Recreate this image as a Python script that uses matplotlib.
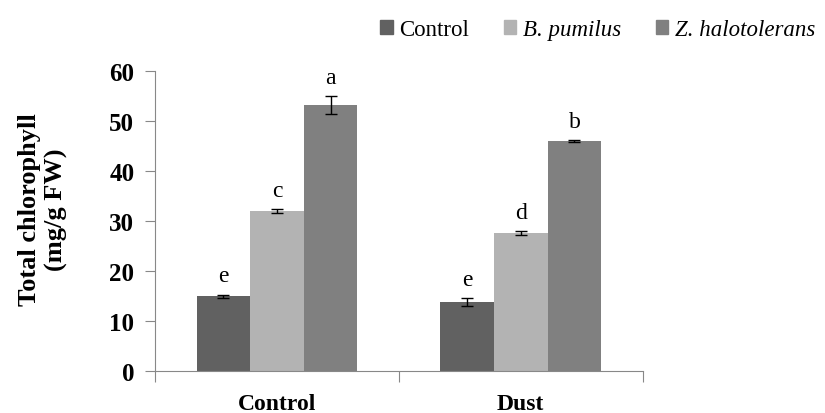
import matplotlib
matplotlib.use('Agg')
import matplotlib.pyplot as plt
import numpy as np
from matplotlib.patches import Patch
from matplotlib.font_manager import FontProperties

plt.rcParams['font.family'] = ['Liberation Serif', 'DejaVu Serif']

groups = ['Control', 'Dust']
series = ['Control', 'B. pumilus', 'Z. halotolerans']
values = {
    'Control': [15.0, 13.8],
    'B. pumilus': [32.0, 27.6],
    'Z. halotolerans': [53.2, 46.0],
}
errors = {
    'Control': [0.3, 0.8],
    'B. pumilus': [0.4, 0.4],
    'Z. halotolerans': [1.8, 0.2],
}
letters = {
    'Control': ['e', 'e'],
    'B. pumilus': ['c', 'd'],
    'Z. halotolerans': ['a', 'b'],
}
colors = ['#616161', '#b3b3b3', '#808080']

fig = plt.figure(figsize=(8.25, 4.14), dpi=100)
ax = fig.add_axes([0.188, 0.1014, 0.591, 0.7246])

centers = np.arange(len(groups)) + 0.5
width = 0.22
for i, name in enumerate(series):
    x = centers + (i - 1) * width
    ax.bar(x, values[name], width, color=colors[i], zorder=2)
    ax.errorbar(x, values[name], yerr=errors[name], fmt='none', ecolor='black',
                elinewidth=1, capsize=4.5, capthick=1, zorder=3)
    for xi, v, e, lab in zip(x, values[name], errors[name], letters[name]):
        ax.annotate(lab, (xi, v + e), xytext=(0, 6), textcoords='offset points',
                    ha='center', va='bottom', fontsize=17, family='Liberation Serif')

ax.set_xlim(0, len(groups))
ax.set_ylim(0, 60)
ax.set_yticks(np.arange(0, 61, 10))
ax.set_yticklabels([str(t) for t in range(0, 61, 10)], fontsize=18, fontweight='bold')
ax.set_xticks([0, 1, 2])
ax.set_xticklabels([])
ax.set_xticks(centers, minor=True)
ax.set_xticklabels(groups, minor=True, fontsize=17, fontweight='bold')
ax.tick_params(axis='x', which='major', direction='out', length=8, color='#888888')
ax.tick_params(axis='x', which='minor', length=0, pad=16)
ax.tick_params(axis='y', direction='out', length=7, color='#888888', pad=8)

for s in ['top', 'right']:
    ax.spines[s].set_visible(False)
for s in ['left', 'bottom']:
    ax.spines[s].set_color('#888888')

ax.set_ylabel('Total chlorophyll\n(mg/g FW)', fontsize=19, fontweight='bold', linespacing=1.2)
ax.yaxis.set_label_coords(-0.178, 0.54)

handles = [Patch(color=c) for c in colors]
leg = fig.legend(handles, series, loc='upper right', bbox_to_anchor=(1.008, 0.99), ncol=3,
                 frameon=False, prop=FontProperties(family='Liberation Serif', size=16.5),
                 handlelength=0.55, handleheight=0.55, handletextpad=0.3, columnspacing=1.5,
                 borderaxespad=0.3)
for t in leg.get_texts()[1:]:
    t.set_fontproperties(FontProperties(family='Liberation Serif', size=16.5, style='italic'))

fig.savefig('out.png', dpi=100)
